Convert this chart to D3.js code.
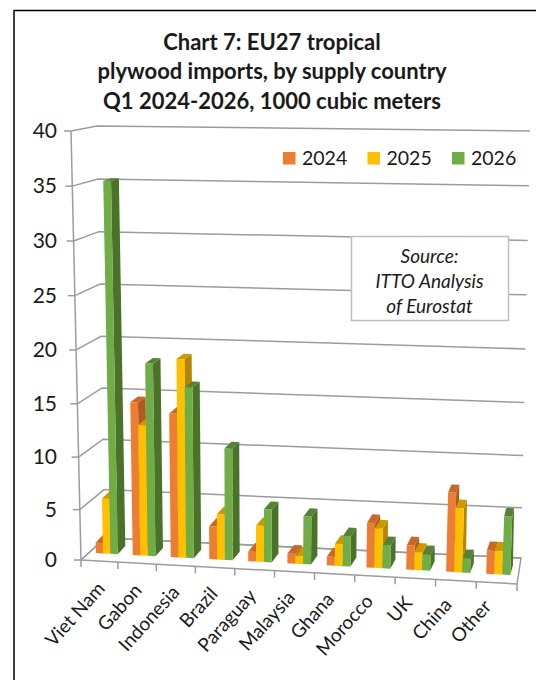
<!DOCTYPE html>
<html>
<head>
<meta charset="utf-8">
<script src="https://cdnjs.cloudflare.com/ajax/libs/d3/7.8.5/d3.min.js"></script>
<style>
    html, body { margin: 0; padding: 0; background: #fff; }
    svg { display: block; font-family: Lato, "Open Sans", sans-serif; }
</style>
</head>
<body>
<script>
const categories = ['Viet Nam', 'Gabon', 'Indonesia', 'Brazil', 'Paraguay', 'Malaysia', 'Ghana', 'Morocco', 'UK', 'China', 'Other'];
const years = ['2024', '2025', '2026'];
const values2024 = [1.1, 14.8, 13.9, 3.3, 1.0, 1.0, 0.9, 4.4, 2.4, 7.6, 2.3];
const values2025 = [5.5, 12.7, 19.0, 4.5, 3.6, 0.8, 2.2, 3.9, 1.8, 6.2, 2.3];
const values2026 = [35.3, 18.5, 16.4, 10.8, 5.2, 4.7, 3.0, 2.3, 1.6, 1.4, 5.6];
const yTicks = [0, 5, 10, 15, 20, 25, 30, 35, 40];
const titleLines = ['Chart 7: EU27 tropical', 'plywood imports, by supply country', 'Q1 2024-2026, 1000 cubic meters'];
const sourceLines = ['Source:', 'ITTO Analysis', 'of Eurostat'];

const seriesValues = [values2024, values2025, values2026];
const faceColors = ['#ED7D31', '#FFC000', '#70AD47'];
const sideColors = ['#AE5A21', '#B38600', '#4A7229'];
const topColors = ['#C8672A', '#CC9A00', '#558235'];

const width = 536, height = 680;

// corners of the chart box, as [x, y] on screen
const box = {
    frontLeft: {low: [81, 560], high: [71, 131]},
    frontRight: {low: [517, 584], high: [535, 136]},
    backLeft: {low: [105, 538], high: [97, 126]},
    backRight: {low: [521, 558], high: [530, 131]}
};

function mix(a, b, t) { return a + (b - a) * t; }

// categories get slightly wider towards the viewer's right
const uWarp = d3.scalePow().exponent(1.03).domain([0, 1]).range([0, 1]);

// u: along the categories, h: up the value axis, d: front to back
function project(u, h, d) {
    const w = uWarp(u);
    function at(i) {
        const fl = mix(box.frontLeft.low[i], box.frontLeft.high[i], h);
        const fr = mix(box.frontRight.low[i], box.frontRight.high[i], h);
        const bl = mix(box.backLeft.low[i], box.backLeft.high[i], h);
        const br = mix(box.backRight.low[i], box.backRight.high[i], h);
        return mix(mix(fl, fr, w), mix(bl, br, w), d);
    }
    return [at(0), at(1)];
}

const heightScale = d3.scalePow().exponent(1.03).domain([0, 40]).range([0, 1]);
const xBand = d3.scaleBand().domain(categories).range([0, 1]);
const seriesBand = d3.scaleBand().domain(years).range([0, xBand.bandwidth()]).paddingOuter(1);

// the bars sit in the middle third of the floor
const barFront = 0.33, barBack = 0.7;
// sideways depth of a bar grows towards the right of the chart
const sideSpan = d3.scaleLinear().domain([0, 1]).range([0.31, 0.6]);

function barBackPoint(u, h) {
    const front = project(u, h, barFront);
    const back = project(u, h, barBack);
    const dx = (project(u, h, 1)[0] - project(u, h, 0)[0]) * sideSpan(u);
    return [front[0] + dx, back[1]];
}

const svg = d3.select('body').append('svg')
    .attr('width', width)
    .attr('height', height);

// frame of the chart area
svg.append('path')
    .attr('d', 'M14,680V10.5H536')
    .attr('fill', 'none')
    .attr('stroke', '#000')
    .attr('stroke-width', 1.5);

svg.append('g').selectAll('text')
    .data(titleLines)
    .enter().append('text')
    .attr('x', 272)
    .attr('y', (d, i) => 49.5 + i * 29.5)
    .attr('text-anchor', 'middle')
    .attr('font-size', 22)
    .attr('font-weight', 700)
    .attr('fill', '#1a1a1a')
    .text(d => d);

const line = d3.line();
const gridColor = '#9c9c9c';

// floor
svg.append('path')
    .attr('d', line([project(0, 0, 0), project(1, 0, 0), project(1, 0, 1), project(0, 0, 1)]) + 'Z')
    .attr('fill', '#fff')
    .attr('stroke', gridColor)
    .attr('stroke-width', 1.5);

// gridlines along the back wall and the left wall
const grid = svg.append('g');
grid.selectAll('path')
    .data(yTicks)
    .enter().append('path')
    .attr('d', d => line([project(0, heightScale(d), 0), project(0, heightScale(d), 1), project(1, heightScale(d), 1)]))
    .attr('fill', 'none')
    .attr('stroke', gridColor)
    .attr('stroke-width', 1.5);

// value axis line with its outward ticks
svg.append('path')
    .attr('d', line([project(0, 0, 0), project(0, 1, 0)]))
    .attr('stroke', gridColor)
    .attr('stroke-width', 1.5);
svg.append('g').selectAll('path')
    .data(yTicks)
    .enter().append('path')
    .attr('d', d => {
        const p = project(0, heightScale(d), 0);
        return line([p, [p[0] - 7, p[1]]]);
    })
    .attr('stroke', gridColor)
    .attr('stroke-width', 1.5);

// category ticks under the front edge of the floor
svg.append('g').selectAll('path')
    .data(d3.range(categories.length + 1))
    .enter().append('path')
    .attr('d', i => {
        const p = project(i / categories.length, 0, 0);
        return line([p, [p[0], p[1] + 7]]);
    })
    .attr('stroke', gridColor)
    .attr('stroke-width', 1.5);

const yAxisScale = d3.scalePow().exponent(1.03).domain([0, 40]).range([560, 131]);
const yAxis = d3.axisLeft(yAxisScale).tickValues(yTicks).tickSize(0).tickPadding(0);
const yAxisGroup = svg.append('g')
    .attr('transform', 'translate(57,0)')
    .call(yAxis);
yAxisGroup.select('.domain').remove();
yAxisGroup.selectAll('text')
    .attr('font-family', 'Lato, "Open Sans", sans-serif')
    .attr('font-size', 21)
    .attr('fill', '#1a1a1a');

// one group per country, bars painted left to right so each covers its neighbour's side
const bars = [];
categories.forEach((c, ci) => {
    years.forEach((y, si) => {
        bars.push({category: c, year: y, series: si, value: seriesValues[si][ci]});
    });
});

const barGroups = svg.append('g').selectAll('g')
    .data(bars)
    .enter().append('g');

function barCorners(d) {
    const u0 = xBand(d.category) + seriesBand(d.year);
    const u1 = u0 + seriesBand.bandwidth();
    const h = heightScale(d.value);
    return {
        a: project(u0, 0, barFront), b: project(u1, 0, barFront),
        c: project(u1, h, barFront), e: project(u0, h, barFront),
        f: barBackPoint(u1, 0), g: barBackPoint(u1, h), i: barBackPoint(u0, h)
    };
}

barGroups.append('path')
    .attr('d', d => {
        const p = barCorners(d);
        return line([p.b, p.f, p.g, p.c]) + 'Z';
    })
    .attr('fill', d => sideColors[d.series]);
barGroups.append('path')
    .attr('d', d => {
        const p = barCorners(d);
        return line([p.e, p.c, p.g, p.i]) + 'Z';
    })
    .attr('fill', d => topColors[d.series]);
barGroups.append('path')
    .attr('d', d => {
        const p = barCorners(d);
        return line([p.a, p.b, p.c, p.e]) + 'Z';
    })
    .attr('fill', d => faceColors[d.series]);

// rotated country names
svg.append('g').selectAll('text')
    .data(categories)
    .enter().append('text')
    .attr('transform', d => {
        const p = project(xBand(d) + xBand.bandwidth() / 2, 0, 0);
        const x = 103 + (p[0] - 101) * 0.972;
        const y = 125 + p[1] * 0.82;
        return 'translate(' + x + ',' + y + ') rotate(-48)';
    })
    .attr('dy', '0.35em')
    .attr('text-anchor', 'end')
    .attr('font-size', 19)
    .attr('fill', '#1a1a1a')
    .text(d => d);

// legend
const legendX = d3.scalePoint().domain(years).range([283, 452]);
const legend = svg.append('g').selectAll('g')
    .data(years)
    .enter().append('g')
    .attr('transform', d => 'translate(' + legendX(d) + ',152)');
legend.append('rect')
    .attr('width', 12.5)
    .attr('height', 12.5)
    .attr('fill', (d, i) => faceColors[i]);
legend.append('text')
    .attr('x', 19)
    .attr('y', 13)
    .attr('font-size', 19.5)
    .attr('fill', '#1a1a1a')
    .text(d => d);

// source note
svg.append('rect')
    .attr('x', 351.5)
    .attr('y', 236.5)
    .attr('width', 157)
    .attr('height', 84)
    .attr('fill', '#fff')
    .attr('stroke', '#bfbfbf')
    .attr('stroke-width', 1.5);
svg.append('g').selectAll('text')
    .data(sourceLines)
    .enter().append('text')
    .attr('x', 429.5)
    .attr('y', (d, i) => 263 + i * 25)
    .attr('text-anchor', 'middle')
    .attr('font-size', 19)
    .attr('font-style', 'italic')
    .attr('fill', '#1a1a1a')
    .text(d => d);
</script>
</body>
</html>
